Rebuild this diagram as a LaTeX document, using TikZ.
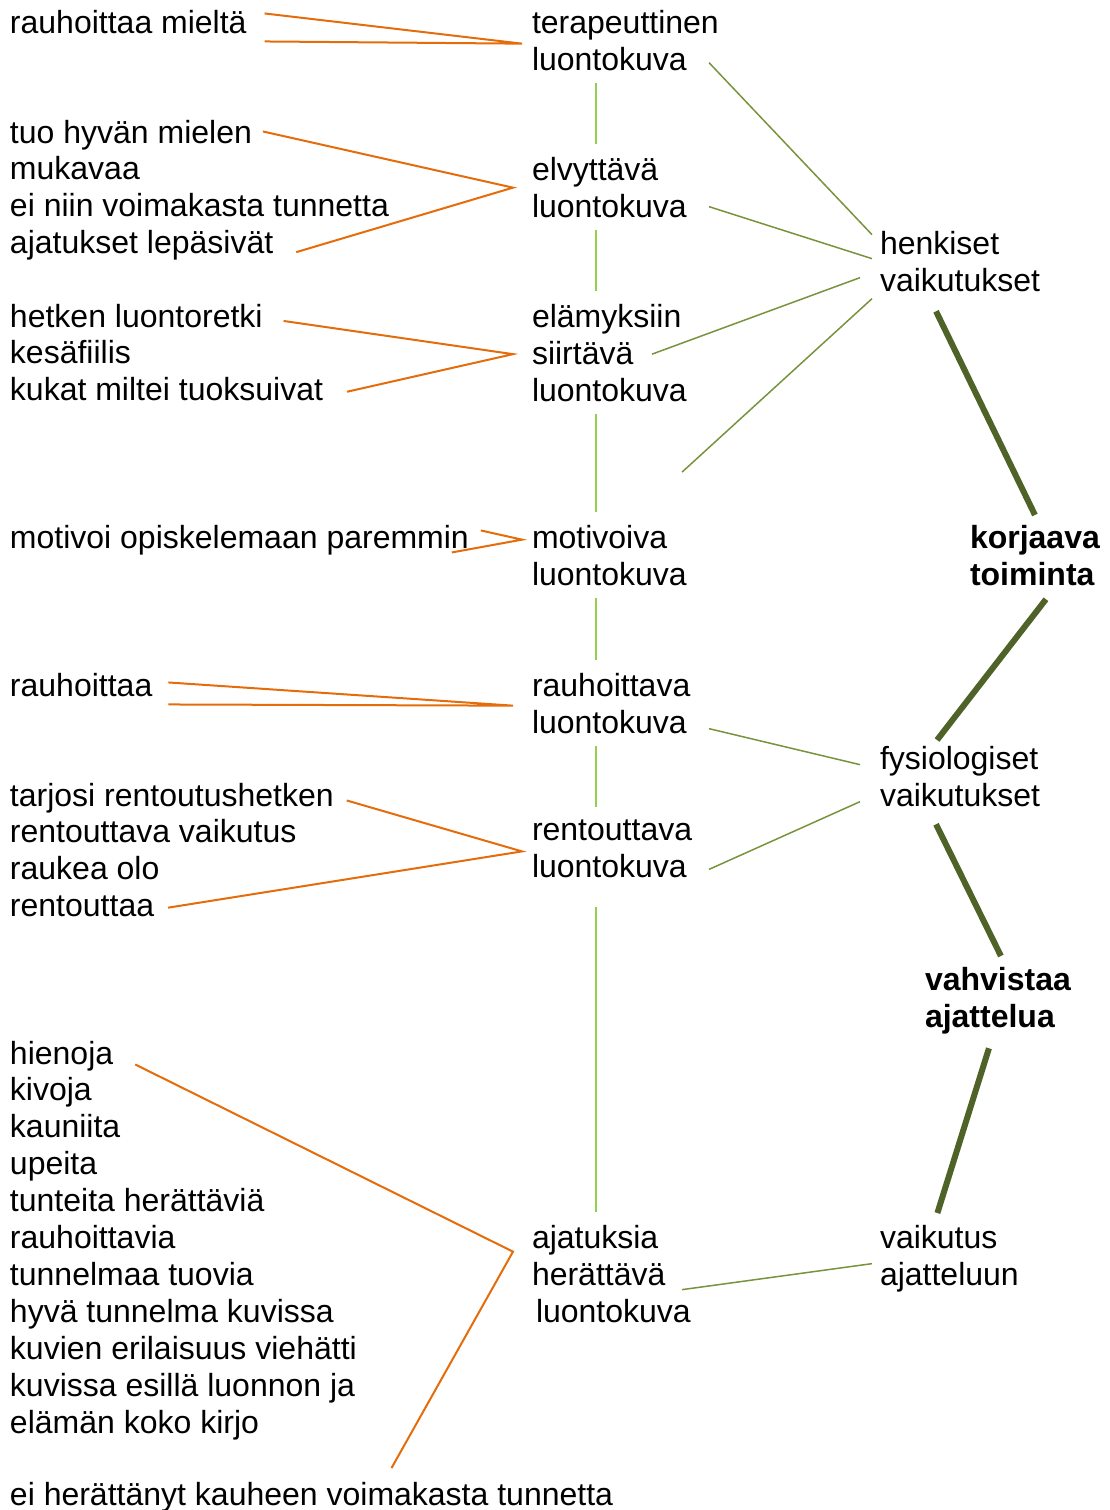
\documentclass[tikz,border=0pt]{standalone}
\usepackage{fontspec}
\setmainfont{Liberation Sans}
\usepackage{tikz}
\usetikzlibrary{positioning}
\definecolor{answercolor}{RGB}{228, 108, 10}
\definecolor{chaincolor}{RGB}{146, 208, 80}
\definecolor{effectcolor}{RGB}{119, 147, 60}
\definecolor{maincolor}{RGB}{79, 98, 40}
\tikzset{
    font=\fontsize{16}{18.5}\selectfont,
    answer/.style = {
        inner sep=0pt, outer sep=0pt, text height=13pt, text depth=5.45pt, anchor=north west
    },
    nextanswer/.style = {
        answer, below=0pt of #1.south west, anchor=north west
    },
    imagetype/.style = {
        inner sep=0pt, outer sep=0pt, anchor=north west, align=left,
        execute at begin node=\strut, execute at end node=\strut
    },
    effect/.style = {imagetype},
    keyeffect/.style = {imagetype, font=\fontsize{16}{18.5}\selectfont\bfseries},
    answerline/.style = {draw=answercolor, line width=1pt},
    chainline/.style = {draw=chaincolor, line width=1pt, shorten <=1pt, shorten >=6.5pt},
    effectline/.style = {draw=effectcolor, line width=0.75pt},
    mainline/.style = {draw=maincolor, line width=3pt}
}
\begin{document}
\begin{tikzpicture}[x=0.5pt, y=-0.5pt]
\useasboundingbox (0,0) rectangle (1109,1510);
% Kinds of nature pictures
\node[imagetype] (therapeutic) at (532,10) {terapeuttinen\\luontokuva};
\node[imagetype] (restorative) at (532,157) {elvyttävä\\luontokuva};
\node[imagetype] (transporting) at (532,304) {elämyksiin\\siirtävä\\luontokuva};
\node[imagetype] (motivating) at (532,525) {motivoiva\\luontokuva};
\node[imagetype] (calmingimg) at (532,673) {rauhoittava\\luontokuva};
\node[imagetype] (relaxing) at (532,820) {rentouttava\\luontokuva};
\node[imagetype] (provoking) at (532,1225) {ajatuksia\\herättävä\\\hspace{2pt}luontokuva};
% Effects
\node[effect] (mental) at (880,231) {henkiset\\vaikutukset};
\node[keyeffect] (corrective) at (970,525) {korjaava\\toiminta};
\node[effect] (physio) at (880,746) {fysiologiset\\vaikutukset};
\node[keyeffect] (strengthen) at (925,967) {vahvistaa\\ajattelua};
\node[effect] (thinking) at (880,1225) {vaikutus\\ajatteluun};
% Answers
\node[answer] (mind) at (10,7) {rauhoittaa mieltä};
\node[answer] (goodmood) at (10,117) {tuo hyvän mielen};
\node[nextanswer=goodmood] (comfy) {mukavaa};
\node[nextanswer=comfy] (notstrong) {ei niin voimakasta tunnetta};
\node[nextanswer=notstrong] (restthoughts) {ajatukset lepäsivät};
\node[answer] (walk) at (10,301) {hetken luontoretki};
\node[nextanswer=walk] (summer) {kesäfiilis};
\node[nextanswer=summer] (flowers) {kukat miltei tuoksuivat};
\node[answer] (motivate) at (10,522) {motivoi opiskelemaan paremmin};
\node[answer] (calms) at (10,670) {rauhoittaa};
\node[answer] (relaxmoment) at (10,780) {tarjosi rentoutushetken};
\node[nextanswer=relaxmoment] (relaxeffect) {rentouttava vaikutus};
\node[nextanswer=relaxeffect] (drowsy) {raukea olo};
\node[nextanswer=drowsy] (relaxes) {rentouttaa};
\node[answer] (fine) at (10,1038) {hienoja};
\node[nextanswer=fine] (nice) {kivoja};
\node[nextanswer=nice] (pretty) {kauniita};
\node[nextanswer=pretty] (superb) {upeita};
\node[nextanswer=superb] (emotive) {tunteita herättäviä};
\node[nextanswer=emotive] (soothing) {rauhoittavia};
\node[nextanswer=soothing] (atmos) {tunnelmaa tuovia};
\node[nextanswer=atmos] (goodatmos) {hyvä tunnelma kuvissa};
\node[nextanswer=goodatmos] (variety) {kuvien erilaisuus viehätti};
\node[nextanswer=variety] (display) {kuvissa esillä luonnon ja};
\node[nextanswer=display] (spectrum) {elämän koko kirjo};
\node[answer] (notstrongfeel) at (10,1479) {ei herättänyt kauheen voimakasta tunnetta};
% Answer brackets
\draw[answerline] ([xshift=9pt,yshift=6pt]mind.east) -- ([xshift=-5pt,yshift=1pt]therapeutic.west) -- ([xshift=9pt,yshift=-8pt]mind.east);
\draw[answerline] ([xshift=5.5pt,yshift=2pt]goodmood.east) -- ([xshift=-9.5pt,yshift=2.5pt]restorative.west) -- ([xshift=11.5pt,yshift=-3pt]restthoughts.east);
\draw[answerline] ([xshift=10.5pt,yshift=-0.75pt]walk.east) -- ([xshift=-9.5pt,yshift=2pt]transporting.west) -- ([xshift=12pt,yshift=0.75pt]flowers.east);
\draw[answerline] ([xshift=6pt,yshift=5pt]motivate.east) -- ([xshift=-5pt,yshift=10.5pt]motivating.west) -- ([xshift=-8.5pt,yshift=-6pt]motivate.east);
\draw[answerline] ([xshift=8pt,yshift=3pt]calms.east) -- ([xshift=-9.5pt,yshift=1.5pt]calmingimg.west) -- ([xshift=8pt,yshift=-8pt]calms.east);
\draw[answerline] ([xshift=6.5pt,yshift=-1pt]relaxmoment.east) -- ([xshift=-5pt,yshift=1.5pt]relaxing.west) -- ([xshift=7pt,yshift=0.75pt]relaxes.east);
\draw[answerline] ([xshift=11pt,yshift=-4pt]fine.east) -- ([xshift=-9.5pt,yshift=13.75pt]provoking.west) -- ([xshift=40pt,yshift=5.5pt]notstrongfeel.north);
% Chain of picture kinds
\draw[chainline] ([xshift=32pt]therapeutic.south west) -- ([xshift=32pt]restorative.north west);
\draw[chainline] ([xshift=32pt]restorative.south west) -- ([xshift=32pt]transporting.north west);
\draw[chainline] ([xshift=32pt]transporting.south west) -- ([xshift=32pt]motivating.north west);
\draw[chainline] ([xshift=32pt]motivating.south west) -- ([xshift=32pt]calmingimg.north west);
\draw[chainline] ([xshift=32pt]calmingimg.south west) -- ([xshift=32pt]relaxing.north west);
\draw[chainline, shorten <=9pt] ([xshift=32pt]relaxing.south west) -- ([xshift=32pt]provoking.north west);
% Links to effects
\coordinate (loose) at ([xshift=75pt,yshift=-57pt]transporting.west);
\draw[effectline] ([xshift=88.5pt,yshift=-8.5pt]therapeutic.west) -- ([xshift=-4pt,yshift=16pt]mental.west);
\draw[effectline] ([xshift=88.5pt,yshift=-7pt]restorative.west) -- ([xshift=-4pt,yshift=4pt]mental.west);
\draw[effectline] ([xshift=60pt,yshift=2pt]transporting.west) -- ([xshift=-10pt,yshift=-5.5pt]mental.west);
\draw[effectline] (loose) -- ([xshift=-4pt,yshift=-16pt]mental.west);
\draw[effectline] ([xshift=88.5pt,yshift=-10pt]calmingimg.west) -- ([xshift=-10pt,yshift=8.5pt]physio.west);
\draw[effectline] ([xshift=88.5pt,yshift=-7.5pt]relaxing.west) -- ([xshift=-10pt,yshift=-10pt]physio.west);
\draw[effectline] ([xshift=75pt,yshift=-5.25pt]provoking.west) -- ([xshift=-4pt,yshift=-1.5pt]thinking.west);
% Main chain
\draw[mainline] ([xshift=-12pt,yshift=-4.5pt]mental.south) -- ([yshift=5pt]corrective.north);
\draw[mainline] ([xshift=5.5pt,yshift=-1.5pt]corrective.south) -- ([xshift=-11.5pt,yshift=3pt]physio.north);
\draw[mainline] ([xshift=-12pt,yshift=-3.5pt]physio.south) -- ([xshift=1.5pt,yshift=5.5pt]strengthen.north);
\draw[mainline] ([xshift=-4.5pt,yshift=-5pt]strengthen.south) -- ([xshift=-6pt,yshift=6pt]thinking.north);
\end{tikzpicture}
\end{document}
